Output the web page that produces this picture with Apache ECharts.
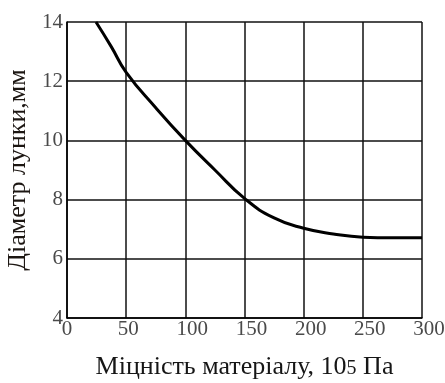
<!DOCTYPE html>
<html><head><meta charset="utf-8">
<script src="https://cdn.jsdelivr.net/npm/echarts@6/dist/echarts.min.js"></script>
<style>html,body{margin:0;padding:0;background:#fff}#c{width:445px;height:383px}</style>
</head><body><div id="c"></div>
<script>
var strength = [24.5, 37.5, 50, 75, 100, 125, 150, 175, 200, 225, 250, 275, 300];
var diameter = [14, 13.16, 12.3, 11.1, 10.0, 9.0, 8.04, 7.38, 7.03, 6.84, 6.73, 6.71, 6.71];
var xTicks = [0, 50, 100, 150, 200, 250, 300];
var yTicks = [4, 6, 8, 10, 12, 14];
var xTitle = 'Міцність матеріалу, 10{s|5} Па';
var yTitle = 'Діаметр лунки,мм';

var chart = echarts.init(document.getElementById('c'));
var font = 'Liberation Serif';
chart.setOption({
  animation: false,
  grid: {left: 67, top: 22, right: 23, bottom: 65, containLabel: false, outerBoundsMode: 'none'},
  xAxis: {
    type: 'value', min: xTicks[0], max: xTicks[xTicks.length-1], interval: 50,
    axisLine: {lineStyle: {color: '#000', width: 1.5}},
    axisTick: {show: false},
    splitLine: {lineStyle: {color: '#111', width: 1.5}},
    axisLabel: {
      color: '#4a4a4a', fontFamily: font, fontSize: 21, margin: 1,
      formatter: function (v) { return v === 0 ? '{a|' + v + '}' : (v === 50 ? '{c|' + v + '}' : '{b|' + v + '}'); },
      rich: {
        a: {fontFamily: font, fontSize: 21, color: '#4a4a4a'},
        b: {fontFamily: font, fontSize: 21, color: '#4a4a4a', padding: [0, 0, 0, 14]},
        c: {fontFamily: font, fontSize: 21, color: '#4a4a4a', padding: [0, 0, 0, 4]}
      }
    },
    name: xTitle, nameLocation: 'middle', nameGap: 36,
    nameTextStyle: {color: '#161616', fontFamily: font, fontSize: 26,
      rich: {s: {fontSize: 20, fontFamily: font, color: '#161616', verticalAlign: 'bottom', padding: [0, 0, 1, 0]}}}
  },
  yAxis: {
    type: 'value', min: yTicks[0], max: yTicks[yTicks.length-1], interval: 2,
    axisLine: {show: true, lineStyle: {color: '#000', width: 1.5}},
    axisTick: {show: false},
    splitLine: {lineStyle: {color: '#111', width: 1.5}},
    axisLabel: {color: '#4a4a4a', fontFamily: font, fontSize: 21, margin: 4},
    name: yTitle, nameLocation: 'middle', nameGap: 30, nameRotate: 90,
    nameTextStyle: {color: '#1c1612', fontFamily: font, fontSize: 26}
  },
  series: [{
    type: 'line', smooth: 0.5, showSymbol: false,
    data: strength.map(function(x, i){ return [x, diameter[i]]; }),
    lineStyle: {color: '#000', width: 3}
  }]
});
</script></body></html>
